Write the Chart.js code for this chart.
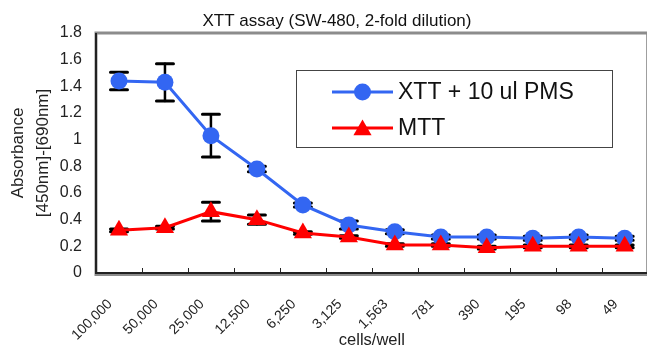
<!DOCTYPE html>
<html>
<head>
<meta charset="utf-8">
<script src="https://cdn.jsdelivr.net/npm/chart.js@4.4.1/dist/chart.umd.min.js"></script>
<style>
  html, body { margin: 0; padding: 0; background: #fff; overflow: hidden; }
  #wrap { width: 660px; height: 350px; position: relative; }
  canvas { display: block; }
</style>
</head>
<body>
<div id="wrap"><canvas id="my_canvas" width="660" height="350"></canvas></div>
<script>
// cells per well (2-fold dilution)
const cells = ['100,000','50,000','25,000','12,500','6,250','3,125','1,563','781','390','195','98','49'];

const xtt_values = [1.44, 1.43, 1.03, 0.78, 0.51, 0.36, 0.31, 0.27, 0.27, 0.26, 0.27, 0.26];
const xtt_errors = [0.065, 0.14, 0.16, 0.02, 0.015, 0.03, 0.015, 0.015, 0.015, 0.015, 0.015, 0.015];

const mtt_values = [0.32, 0.34, 0.46, 0.40, 0.30, 0.27, 0.21, 0.21, 0.19, 0.20, 0.20, 0.20];
const mtt_errors = [0.01, 0.01, 0.07, 0.035, 0.01, 0.01, 0.01, 0.01, 0.01, 0.01, 0.01, 0.01];

const y_ticks = [0, 0.2, 0.4, 0.6, 0.8, 1, 1.2, 1.4, 1.6, 1.8];

const chart_title = 'XTT assay (SW-480, 2-fold dilution)';
const FONT = "'Liberation Sans', Arial, sans-serif";

const blue = '#3366f2';
const red = '#ff0000';

// error bars, drawn under the markers
const errorBars = {
    id:'errorBars',
    beforeDatasetsDraw(chart){
        const ctx = chart.ctx;
        const xs = chart.scales.x, ys = chart.scales.y;
        ctx.save();
        ctx.strokeStyle = '#000';
        ctx.lineCap = 'round';
        chart.data.datasets.forEach(ds => {
            ds.values.forEach((v, i) => {
                const e = ds.errors[i];
                const x = xs.getPixelForValue(i);
                const t = ys.getPixelForValue(v + e);
                const b = ys.getPixelForValue(v - e);
                ctx.lineWidth = 2.5;
                ctx.beginPath();
                ctx.moveTo(x, t); ctx.lineTo(x, b);
                ctx.stroke();
                ctx.lineWidth = 3;
                ctx.beginPath();
                ctx.moveTo(x - 8.5, t); ctx.lineTo(x + 8.5, t);
                ctx.moveTo(x - 8.5, b); ctx.lineTo(x + 8.5, b);
                ctx.stroke();
            });
        });
        ctx.restore();
    }
};

function drawMarker(ctx, style, x, y, color){
    ctx.fillStyle = color;
    ctx.beginPath();
    if(style === 'triangle'){
        const r = 10.5;
        ctx.moveTo(x, y - r);
        ctx.lineTo(x + r * Math.sin(2 * Math.PI / 3), y + r / 2);
        ctx.lineTo(x - r * Math.sin(2 * Math.PI / 3), y + r / 2);
        ctx.closePath();
    } else {
        ctx.arc(x, y, 8.5, 0, Math.PI * 2);
    }
    ctx.fill();
}

// frame, inward x ticks, title and the boxed legend
const decorations = {
    id:'decorations',
    beforeDatasetsDraw(chart){
        const ctx = chart.ctx;
        const a = chart.chartArea;
        const xs = chart.scales.x;
        ctx.save();
        // frame
        ctx.strokeStyle = '#8c8c8c';
        ctx.lineWidth = 3;
        ctx.strokeRect(a.left, a.top, a.right - a.left, a.bottom - a.top + 1.5);
        ctx.strokeStyle = '#222';
        ctx.lineWidth = 2;
        ctx.beginPath();
        ctx.moveTo(a.left, a.top);
        ctx.lineTo(a.left, a.bottom);
        ctx.lineTo(a.right, a.bottom);
        ctx.stroke();
        // tick marks between categories
        ctx.lineWidth = 1;
        for(let i = 1; i < cells.length; i++){
            const x = Math.round((xs.getPixelForValue(i - 1) + xs.getPixelForValue(i)) / 2) + 0.5;
            ctx.beginPath();
            ctx.moveTo(x, a.bottom);
            ctx.lineTo(x, a.bottom - 5);
            ctx.stroke();
        }
        ctx.restore();
    },
    afterDraw(chart){
        const ctx = chart.ctx;
        ctx.save();
        ctx.fillStyle = '#111';
        ctx.font = '17px ' + FONT;
        ctx.textAlign = 'center';
        ctx.textBaseline = 'middle';
        ctx.fillText(chart_title, 337, 21);

        // legend box
        ctx.fillStyle = '#fff';
        ctx.fillRect(296, 70, 316, 77);
        ctx.strokeStyle = '#444';
        ctx.lineWidth = 1;
        ctx.strokeRect(296.5, 70.5, 316, 77);
        const rows = [92, 128];
        const shown = [0, 1];
        shown.forEach((di, k) => {
            const ds = chart.data.datasets[di];
            const y = rows[k];
            ctx.strokeStyle = ds.borderColor;
            ctx.lineWidth = 3;
            ctx.beginPath();
            ctx.moveTo(332, y); ctx.lineTo(393, y);
            ctx.stroke();
            drawMarker(ctx, ds.pointStyle, 362.5, ds.pointStyle === 'triangle' ? y + 2 : y, ds.backgroundColor);
            ctx.fillStyle = '#111';
            ctx.font = '23px ' + FONT;
            ctx.textAlign = 'left';
            ctx.textBaseline = 'middle';
            ctx.fillText(ds.label, 398, y + 1);
        });
        ctx.restore();
    }
};

const canvas_element = document.getElementById('my_canvas').getContext('2d');

const the_chart = new Chart(canvas_element,{
    type:'line',
    data:{
        labels:cells,
        datasets:[{
            label:'XTT + 10 ul PMS',
            data:xtt_values,
            values:xtt_values,
            errors:xtt_errors,
            borderColor:blue,
            backgroundColor:blue,
            borderWidth:3,
            pointStyle:'circle',
            pointRadius:8.5,
            pointBorderWidth:0,
            tension:0,
            order:2
        },{
            label:'MTT',
            data:mtt_values,
            values:mtt_values,
            errors:mtt_errors,
            borderColor:red,
            backgroundColor:red,
            borderWidth:3,
            pointStyle:'triangle',
            pointRadius:10.5,
            pointBorderWidth:0,
            tension:0,
            order:1
        }]
    },
    options:{
        responsive:false,
        maintainAspectRatio:false,
        animation:false,
        devicePixelRatio:1,
        layout:{ padding:{ top:33, right:9, bottom:0, left:0 } },
        plugins:{
            legend:{ display:false },
            tooltip:{ enabled:false },
            title:{ display:false }
        },
        scales:{
            x:{
                offset:true,
                grid:{ display:false, drawTicks:false },
                border:{ display:false },
                ticks:{
                    minRotation:45,
                    maxRotation:45,
                    autoSkip:false,
                    padding:23,
                    labelOffset:-9,
                    color:'#222',
                    font:{ family:FONT, size:14 }
                },
                title:{
                    display:true,
                    text:'cells/well',
                    color:'#222',
                    font:{ family:FONT, size:16.5 },
                    padding:{ top:0, bottom:0 }
                },
                afterFit(s){ s.height = 77; }
            },
            y:{
                min:0,
                max:1.8,
                grid:{ display:false, drawTicks:false },
                border:{ display:false },
                afterBuildTicks(s){ s.ticks = y_ticks.map(v => ({ value:v })); },
                ticks:{
                    padding:14,
                    color:'#222',
                    font:{ family:FONT, size:16 },
                    callback:v => String(v)
                },
                title:{
                    display:true,
                    text:['Absorbance','[450nm]-[690nm]'],
                    color:'#222',
                    font:{ family:FONT, size:17, lineHeight:1.47 },
                    padding:{ top:5.5, bottom:0 }
                },
                afterFit(s){ s.width = 96; }
            }
        }
    },
    plugins:[errorBars, decorations]
});
</script>
</body>
</html>
